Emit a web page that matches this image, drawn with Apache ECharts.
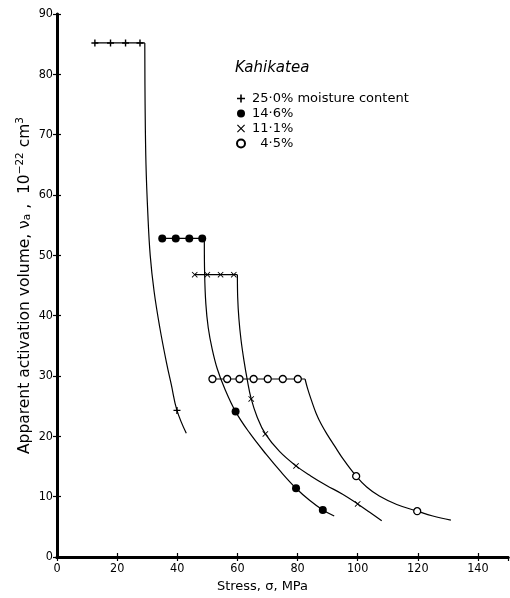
<!DOCTYPE html>
<html>
<head>
<meta charset="utf-8">
<script src="https://cdn.jsdelivr.net/npm/echarts@6/dist/echarts.min.js"></script>
<style>
  html, body { margin: 0; padding: 0; background: #fff; }
  #main { width: 510px; height: 598px; }
</style>
</head>
<body>
<div id="main"></div>
<script>
// 数据 (stress MPa, activation volume 1e-22 cm3)
const names = ['25·0% moisture content', '14·6%', '11·1%', '4·5%']
const xTicks = [0, 20, 40, 60, 80, 100, 120, 140]

// measured points
const pts25 = [[12.6, 85.2], [17.8, 85.2], [22.8, 85.2], [27.6, 85.2], [39.9, 24.3]]
const pts146 = [[35, 52.8], [39.5, 52.8], [44, 52.8], [48.3, 52.8], [59.4, 24.1], [79.5, 11.4], [88.4, 7.8]]
const pts111 = [[45.8, 46.8], [50, 46.8], [54.4, 46.8], [58.8, 46.8], [64.6, 26.2], [69.3, 20.4], [79.5, 15.1], [100, 8.8]]
const pts45 = [[51.7, 29.5], [56.6, 29.5], [60.7, 29.5], [65.4, 29.5], [70.1, 29.5], [75.1, 29.5], [80.1, 29.5], [99.5, 13.4], [119.8, 7.6]]

// flat part of each curve
const top25 = [[12.6, 85.2], [29.2, 85.2]]
const top146 = [[35, 52.8], [49, 52.8]]
const top111 = [[45.8, 46.8], [60, 46.8]]
const top45 = [[51.7, 29.5], [82.5, 29.5]]

// curves as drawn in the figure
const curve25 = [[29.2, 85.2], [29.3, 75], [29.6, 65], [30.2, 57], [31.0, 50], [32.3, 44], [34.2, 38], [36.5, 32], [38.0, 28.6], [39.9, 24.3], [43, 20.5]]
const curve146 = [[49, 52.8], [49.1, 47], [49.5, 42], [50.3, 38], [51.6, 34.5], [53.3, 31.2], [55.7, 28], [59.4, 24.1], [64, 20.6], [69.6, 17], [74.5, 14.1], [79.5, 11.4], [84, 9.4], [88.4, 7.8], [92.2, 6.8]]
const curve111 = [[60, 46.8], [60.1, 43], [60.5, 39.5], [61.2, 36], [62.2, 32.5], [63.3, 29.3], [64.6, 26.2], [66.5, 23.3], [69.3, 20.4], [74, 17.5], [79.5, 15.1], [84.5, 13.4], [89.5, 11.9], [95, 10.4], [100, 8.8], [104, 7.4], [108, 6.0]]
const curve45 = [[82.5, 29.5], [83.3, 28], [84.6, 26], [86.2, 23.8], [87.9, 22], [90, 20.2], [92.2, 18.5], [95.5, 16], [99.5, 13.4], [103, 11.6], [107.2, 10.1], [113, 8.7], [119.8, 7.6], [125, 6.8], [131, 6.1]]

const PLUS = 'path://M4,0H6V4H10V6H6V10H4V6H0V4H4Z'
const CROSS = 'path://M0,1L1,0L5,4L9,0L10,1L6,5L10,9L9,10L5,6L1,10L0,9L4,5Z'
const FONT = 'DejaVu Sans'

const chart = echarts.init(document.getElementById('main'))

const lineSeries = (data, smooth) => ({
  type: 'line',
  data: data,
  smooth: smooth,
  symbol: 'none',
  silent: true,
  lineStyle: { color: '#000', width: 1.2 },
  z: 2
})

const markSeries = (name, data, symbol, size, color, border) => ({
  name: name,
  type: 'scatter',
  data: data,
  symbol: symbol,
  symbolSize: size,
  itemStyle: { color: color, borderColor: '#000', borderWidth: border, opacity: 1 },
  z: 3
})

const axisCommon = {
  type: 'value',
  splitLine: { show: false },
  axisLine: { show: true, lineStyle: { color: '#000', width: 3 } },
  axisTick: { show: true, inside: true, length: 4, lineStyle: { color: '#000', width: 1.2 } }
}

const option = {
  backgroundColor: '#fff',
  animation: false,
  textStyle: { fontFamily: FONT },
  grid: { left: 57, top: 14, right: 2, bottom: 41 },
  xAxis: [
    Object.assign({}, axisCommon, {
      min: 0, max: 150, interval: 20,
      position: 'bottom',
      name: 'Stress, σ, MPa',
      nameLocation: 'middle',
      nameGap: 21,
      nameTextStyle: { color: '#000', fontSize: 13, fontFamily: FONT, padding: [0, 40, 0, 0] },
      axisLabel: {
        color: '#000', fontSize: 12.5, fontFamily: 'DejaVu Sans Condensed', margin: 5,
        showMaxLabel: false,
        formatter: v => (xTicks.indexOf(v) >= 0 ? String(v) : '')
      }
    }),
    Object.assign({}, axisCommon, {
      min: 0, max: 150, interval: 20,
      position: 'top',
      axisLabel: { show: false }
    })
  ],
  yAxis: [
    Object.assign({}, axisCommon, {
      min: 0, max: 90, interval: 10,
      position: 'left',
      name: '{a|Apparent activation volume, ν}{sub|a}{a| ,  10}{sup|−22}{a| cm}{sup|3}',
      nameLocation: 'middle',
      nameGap: 22,
      nameMoveOverlap: false,
      nameTextStyle: {
        color: '#000',
        rich: {
          a: { fontSize: 15.5, fontFamily: FONT, color: '#000', lineHeight: 20 },
          sub: { fontSize: 10.5, fontFamily: FONT, color: '#000', verticalAlign: 'bottom', lineHeight: 20, padding: [0, 0, 2, 0] },
          sup: { fontSize: 10.5, fontFamily: FONT, color: '#000', verticalAlign: 'top', lineHeight: 20 }
        }
      },
      axisLabel: { color: '#000', fontSize: 12.5, fontFamily: 'DejaVu Sans Condensed', margin: 4 }
    }),
    Object.assign({}, axisCommon, {
      min: 0, max: 90, interval: 10,
      position: 'right',
      axisLine: { show: true, lineStyle: { color: '#000', width: 2 } },
      axisLabel: { show: false }
    })
  ],
  legend: {
    data: names,
    orient: 'vertical',
    left: 231,
    top: 87,
    itemGap: 2,
    itemWidth: 8,
    itemHeight: 8,
    selectedMode: false,
    textStyle: { color: '#000', fontSize: 13, fontFamily: FONT, padding: [0, 0, 0, 2] },
    formatter: name => (name === '4·5%' ? '  ' + name : name)
  },
  graphic: [{
    type: 'text',
    left: 235,
    top: 61,
    style: { text: 'Kahikatea', fontSize: 15, fontStyle: 'italic', fontFamily: FONT, fill: '#000' }
  }],
  series: [
    lineSeries(top25, false),
    lineSeries(curve25, 0.4),
    lineSeries(top146, false),
    lineSeries(curve146, 0.4),
    lineSeries(top111, false),
    lineSeries(curve111, 0.4),
    lineSeries(top45, false),
    lineSeries(curve45, 0.4),
    markSeries(names[0], pts25, PLUS, 7, '#000', 0),
    markSeries(names[1], pts146, 'circle', 8, '#000', 0),
    markSeries(names[2], pts111, CROSS, 6, '#000', 0),
    markSeries(names[3], pts45, 'circle', 7, '#fff', 1.3)
  ]
}

chart.setOption(option)
</script>
</body>
</html>
